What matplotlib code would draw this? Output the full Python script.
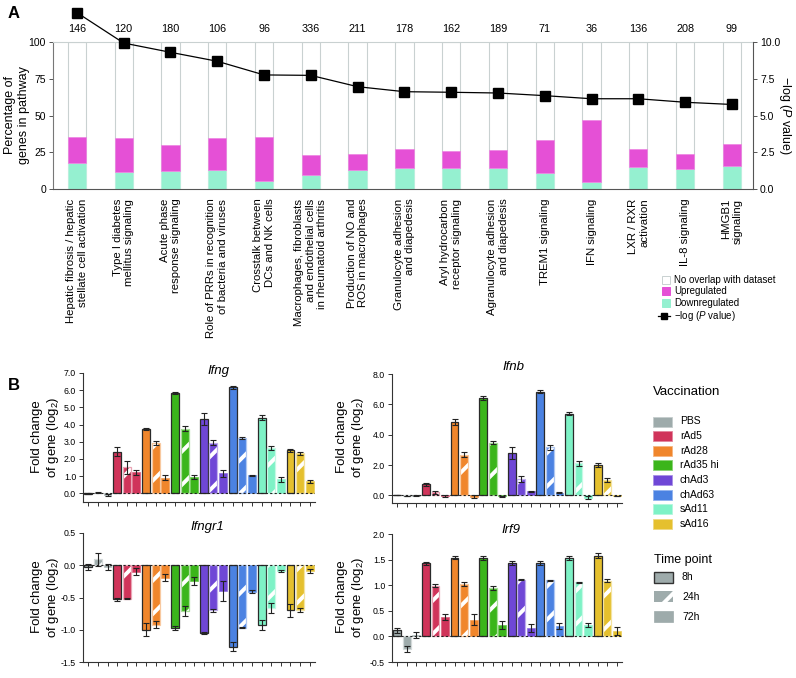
import matplotlib
matplotlib.use('Agg')
import matplotlib.pyplot as plt
import numpy as np
from matplotlib.patches import Rectangle
from matplotlib.lines import Line2D

plt.rcParams['font.family'] = ['Liberation Sans', 'DejaVu Sans']
plt.rcParams['mathtext.fontset'] = 'custom'
plt.rcParams['mathtext.rm'] = 'Liberation Sans'
plt.rcParams['mathtext.it'] = 'Liberation Sans:italic'
plt.rcParams['axes.unicode_minus'] = False
plt.rcParams['hatch.linewidth'] = 2.8

# ---- panel A data ----
pathways = ['Hepatic fibrosis / hepatic\nstellate cell activation',
            'Type I diabetes\nmellitus signaling',
            'Acute phase\nresponse signaling',
            'Role of PRRs in recognition\nof bacteria and viruses',
            'Crosstalk between\nDCs and NK cells',
            'Macrophages, fibroblasts\nand endothelial cells\nin rheumatoid arthritis',
            'Production of NO and\nROS in macrophages',
            'Granulocyte adhesion\nand diapedesis',
            'Aryl hydrocarbon\nreceptor signaling',
            'Agranulocyte adhesion\nand diapedesis',
            'TREM1 signaling',
            'IFN signaling',
            'LXR / RXR\nactivation',
            'IL-8 signaling',
            'HMGB1\nsignaling']
pathway_sizes = [146, 120, 180, 106, 96, 336, 211, 178, 162, 189, 71, 36, 136, 208, 99]
pct_down = [17.9, 11.3, 12.2, 12.7, 5.6, 9.8, 13.2, 14.1, 14.3, 14.3, 10.9, 5.0, 15.0, 13.8, 15.6]
pct_total = [35.6, 34.5, 30.0, 34.5, 35.2, 22.9, 24.0, 27.2, 25.6, 26.7, 33.1, 46.9, 27.2, 23.8, 30.6]
neglogp = [12.0, 9.93, 9.3, 8.69, 7.76, 7.73, 6.96, 6.62, 6.58, 6.53, 6.35, 6.14, 6.14, 5.9, 5.75]
pct_up = [t - d for t, d in zip(pct_total, pct_down)]

# ---- panel B data ----
vaccines = ['PBS', 'rAd5', 'rAd28', 'rAd35 hi', 'chAd3', 'chAd63', 'sAd11', 'sAd16']
vac_colors = ['#9eabab', '#d0345a', '#f0862c', '#3bb51b', '#6f47d6', '#4b82e2', '#7ef2c6', '#e5c02e']
timepoints = ['8h', '24h', '72h']

ifng = [[-0.03, 0.05, -0.12], [2.42, 1.51, 1.22], [3.75, 2.94, 0.91], [5.84, 3.77, 0.97],
        [4.35, 2.94, 1.18], [6.17, 3.21, 1.06], [4.39, 2.65, 0.83], [2.51, 2.32, 0.70]]
ifng_err = [[0.03, 0.04, 0.06], [0.25, 0.4, 0.15], [0.06, 0.12, 0.15], [0.07, 0.15, 0.12],
            [0.35, 0.15, 0.2], [0.08, 0.07, 0.03], [0.15, 0.1, 0.15], [0.1, 0.1, 0.08]]
ifnb = [[0.02, -0.03, -0.02], [0.73, 0.22, -0.05], [4.84, 2.69, -0.1], [6.4, 3.47, -0.06],
        [2.78, 1.07, 0.27], [6.84, 3.16, 0.18], [5.38, 2.11, -0.15], [2.0, 1.0, -0.04]]
ifnb_err = [[0.02, 0.02, 0.03], [0.08, 0.1, 0.06], [0.2, 0.15, 0.1], [0.12, 0.1, 0.04],
            [0.4, 0.2, 0.05], [0.1, 0.15, 0.03], [0.1, 0.15, 0.1], [0.12, 0.12, 0.03]]
ifngr1 = [[-0.03, 0.09, -0.03], [-0.53, -0.52, -0.10], [-1.0, -0.92, -0.19], [-0.97, -0.71, -0.24],
          [-1.05, -0.70, -0.40], [-1.26, -0.97, -0.41], [-0.93, -0.66, -0.09], [-0.70, -0.69, -0.09]]
ifngr1_err = [[0.05, 0.1, 0.05], [0.03, 0.01, 0.05], [0.1, 0.06, 0.05], [0.03, 0.08, 0.06],
              [0.02, 0.02, 0.15], [0.07, 0.01, 0.02], [0.08, 0.08, 0.02], [0.1, 0.03, 0.03]]
irf9 = [[0.12, -0.24, 0.03], [1.43, 0.99, 0.38], [1.54, 1.02, 0.33], [1.54, 0.94, 0.23],
        [1.44, 1.11, 0.16], [1.43, 1.10, 0.21], [1.53, 1.06, 0.23], [1.58, 1.09, 0.10]]
irf9_err = [[0.05, 0.06, 0.06], [0.03, 0.03, 0.06], [0.03, 0.04, 0.1], [0.04, 0.04, 0.08],
            [0.04, 0.01, 0.08], [0.04, 0.01, 0.06], [0.04, 0.01, 0.04], [0.05, 0.03, 0.08]]

UP = '#e550d6'
DOWN = '#95f0d0'
GRID = '#c9d1d1'
W, H = 796, 678


def lighten(c, f):
    rgb = np.array(matplotlib.colors.to_rgb(c))
    return tuple(rgb + (1 - rgb) * f)


def ax_at(l, t, r, b):
    return fig.add_axes([l / W, 1 - b / H, (r - l) / W, (b - t) / H])


fig = plt.figure(figsize=(7.96, 6.78), dpi=100)

# ================= panel A =================
axA = ax_at(53, 42, 753, 189)
x = np.arange(len(pathways))
bw = 0.39
axA.bar(x, [100] * len(x), bw, color='white', edgecolor=GRID, linewidth=0.8, zorder=1)
axA.bar(x, pct_down, bw, color=DOWN, edgecolor=lighten(DOWN, 0.4), linewidth=0.5, zorder=2)
axA.bar(x, pct_up, bw, bottom=pct_down, color=UP, edgecolor=lighten(UP, 0.3), linewidth=0.5, zorder=2)
axA.set_xlim(-0.51, len(x) - 0.55)
axA.set_ylim(0, 100)
axA.set_yticks([0, 25, 50, 75, 100])
axA.tick_params(axis='y', labelsize=7.5, length=3, width=0.7, color='#555', pad=2)
axA.set_xticks(x)
axA.set_xticklabels(pathways, rotation=90, ha='center', va='top', multialignment='right', fontsize=8.2)
axA.tick_params(axis='x', length=0, pad=7)
axA.spines['top'].set_color(GRID)
axA.spines['right'].set_visible(False)
axA.spines['left'].set_color('#777')
axA.spines['bottom'].set_color('#555')
for s in axA.spines.values():
    s.set_linewidth(0.8)
for xi, n in zip(x, pathway_sizes):
    axA.text(xi, 1.09, str(n), transform=axA.get_xaxis_transform(), ha='center', va='center', fontsize=7.8)

axA2 = axA.twinx()
axA2.plot(x, neglogp, color='black', linewidth=0.9, marker='s', markersize=6.5, clip_on=False, zorder=5)
axA2.set_ylim(0, 10)
axA2.set_yticks([0, 2.5, 5, 7.5, 10])
axA2.set_yticklabels(['0.0', '2.5', '5.0', '7.5', '10.0'])
axA2.tick_params(axis='y', labelsize=7.5, length=3, width=0.7, color='#555', pad=2)
for k in ['top', 'left', 'bottom']:
    axA2.spines[k].set_visible(False)
axA2.spines['right'].set_color('#555')
axA2.spines['right'].set_linewidth(0.8)

fig.text(17 / W, 1 - 115 / H, 'Percentage of\ngenes in pathway', rotation=90, ha='center', va='center',
         multialignment='center', fontsize=9)
fig.text(785 / W, 1 - 115 / H, '\u2212log ($\\mathit{P}$ value)', rotation=270, ha='center', va='center', fontsize=9)
fig.text(8 / W, 1 - 14 / H, 'A', fontsize=12, fontweight='bold', ha='left', va='center')
fig.text(8 / W, 1 - 386 / H, 'B', fontsize=12, fontweight='bold', ha='left', va='center')

# ================= panel B =================
def bar_panel(ax, vals, errs, ylim, yticks, title, title_xy):
    n = len(vaccines)
    for t in range(3):
        pos = np.arange(n) * 3 + t
        v = [vals[g][t] for g in range(n)]
        e = [errs[g][t] for g in range(n)]
        if t == 0:
            ax.bar(pos, v, 0.82, color=vac_colors, edgecolor='#2a2a2a', linewidth=0.9, zorder=2)
        elif t == 1:
            ax.bar(pos, v, 0.82, color=vac_colors, edgecolor='white', hatch='/', linewidth=0, zorder=2)
            ax.bar(pos, v, 0.82, color='none', edgecolor=[lighten(c, 0.55) for c in vac_colors],
                   linewidth=0.9, zorder=3)
        else:
            ax.bar(pos, v, 0.82, color=vac_colors, edgecolor=[lighten(c, 0.2) for c in vac_colors],
                   linewidth=0.5, zorder=2)
        ax.errorbar(pos, v, yerr=e, fmt='none', ecolor='#222', elinewidth=0.8, capsize=2, capthick=0.8, zorder=4)
    ax.axhline(0, color='#222', linewidth=0.8, linestyle=(0, (2, 2)), zorder=5)
    ax.set_xlim(-0.55, 3 * n - 0.45)
    ax.set_ylim(*ylim)
    ax.set_xticks(np.arange(3 * n))
    ax.set_xticklabels([])
    ax.set_yticks(yticks)
    ax.set_yticklabels(['%.1f' % yt for yt in yticks])
    ax.tick_params(axis='both', labelsize=6.3, length=3, width=0.7, color='#333', pad=2)
    for k in ['top', 'right']:
        ax.spines[k].set_visible(False)
    for k in ['left', 'bottom']:
        ax.spines[k].set_color('#333')
        ax.spines[k].set_linewidth(0.8)
    fig.text(title_xy[0] / W, 1 - title_xy[1] / H, title, style='italic', fontsize=9.5, ha='center', va='center')


ax1 = ax_at(83, 373, 315, 502)
bar_panel(ax1, ifng, ifng_err, (-0.5, 7.0), [0, 1, 2, 3, 4, 5, 6, 7], 'Ifng', (218, 371))
ax2 = ax_at(392, 374, 622, 503)
bar_panel(ax2, ifnb, ifnb_err, (-0.5, 8.0), [0, 2, 4, 6, 8], 'Ifnb', (513, 367))
ax3 = ax_at(83, 533, 315, 662)
bar_panel(ax3, ifngr1, ifngr1_err, (-1.5, 0.5), [-1.5, -1.0, -0.5, 0.0, 0.5], 'Ifngr1', (207, 527))
ax4 = ax_at(392, 534, 622, 662)
bar_panel(ax4, irf9, irf9_err, (-0.5, 2.0), [-0.5, 0.0, 0.5, 1.0, 1.5, 2.0], 'Irf9', (511, 530))

ylab = 'Fold change\nof gene (log$_2$)'
for cx, cy in [(46, 437), (351, 437), (46, 597), (351, 597)]:
    fig.text(cx / W, 1 - cy / H, ylab, rotation=90, ha='center', va='center', multialignment='center', fontsize=9.5)

# ================= legends (pixel overlay) =================
lax = fig.add_axes([0, 0, 1, 1], zorder=10)
lax.set_xlim(0, W)
lax.set_ylim(H, 0)
lax.axis('off')
lax.patch.set_alpha(0)

legA = [('No overlap with dataset', 'white', GRID), ('Upregulated', UP, UP), ('Downregulated', DOWN, DOWN)]
for i, (lab, fc, ec) in enumerate(legA):
    y = 280 + i * 11.3
    lax.add_patch(Rectangle((662, y - 4), 8, 8, facecolor=fc, edgecolor=ec, linewidth=0.7))
    lax.text(674, y, lab, fontsize=7, va='center', ha='left')
lax.add_line(Line2D([658, 670], [316, 316], color='black', linewidth=0.9))
lax.plot([664], [316], marker='s', color='black', markersize=5)
lax.text(674, 316, '\u2212log ($\\mathit{P}$ value)', fontsize=7, va='center', ha='left')

lax.text(653, 392, 'Vaccination', fontsize=9.5, va='center', ha='left')
for i, (lab, c) in enumerate(zip(vaccines, vac_colors)):
    y = 421.5 + i * 14.6
    lax.add_patch(Rectangle((653, y - 5), 19, 10, facecolor=c, edgecolor=lighten(c, 0.4), linewidth=0.6))
    lax.text(680, y, lab, fontsize=7.5, va='center', ha='left')

lax.text(654, 560, 'Time point', fontsize=9, va='center', ha='left')
gray = vac_colors[0]
lax.add_patch(Rectangle((654, 572), 19, 11, facecolor=gray, edgecolor='#333', linewidth=1.0))
lax.add_patch(Rectangle((654, 591), 19, 11, facecolor=gray, edgecolor='white', hatch='/', linewidth=0))
lax.add_patch(Rectangle((654, 611), 19, 11, facecolor=gray, edgecolor=gray, linewidth=0.5))
for lab, y in zip(timepoints, [577.5, 596.5, 616.5]):
    lax.text(682, y, lab, fontsize=7.5, va='center', ha='left')

fig.savefig('out.png', dpi=100)
